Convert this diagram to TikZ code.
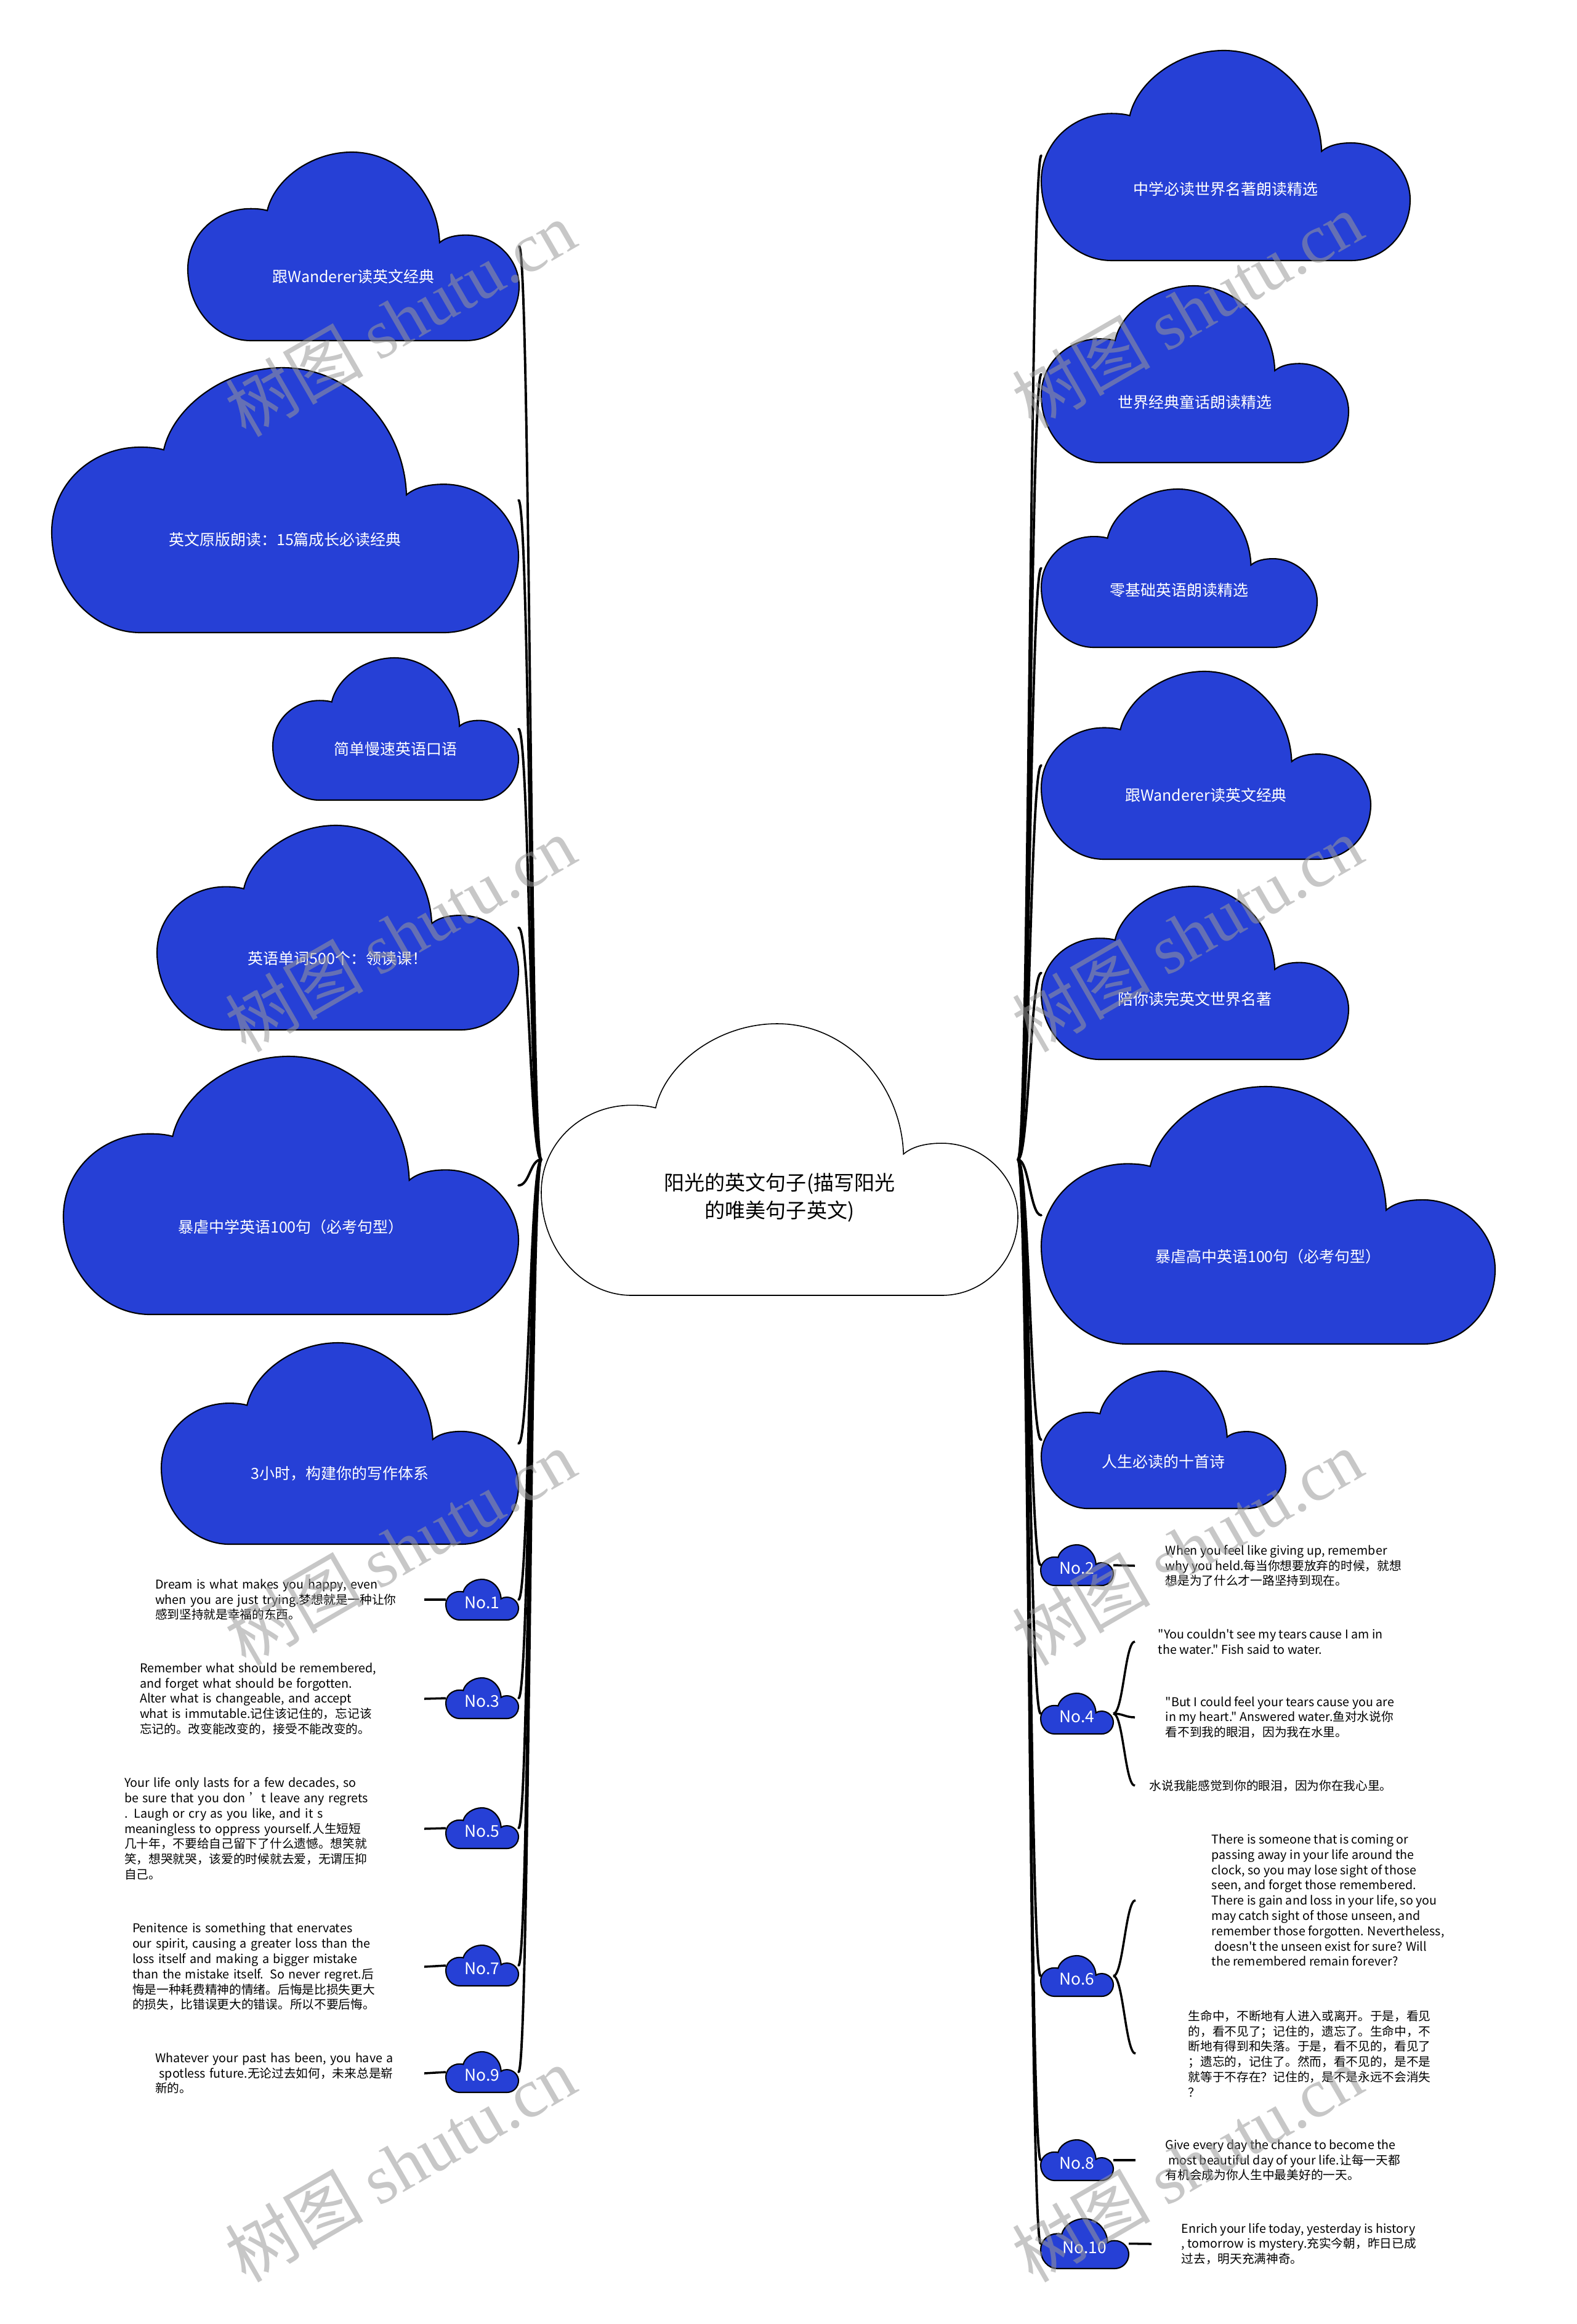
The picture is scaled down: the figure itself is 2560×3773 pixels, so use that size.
\documentclass[tikz,border=0pt]{standalone}
\usepackage{fontspec}
\setmainfont{Noto Sans CJK SC}[Ligatures=TeXOff]
\newfontfamily\wmlatin{Liberation Serif}
\usetikzlibrary{fit,calc}
\definecolor{cblue}{RGB}{38,64,214}
\tikzset{
  bluecloud/.style={fill=cblue,draw=black,line width=0.6pt},
  bluecloud label/.style={text=white,font=\fontsize{7.1}{8.5}\selectfont,inner sep=0pt},
  nocloud/.style={fill=cblue,draw=black,line width=0.6pt},
  nocloud label/.style={text=white,font=\fontsize{7.5}{9}\selectfont,inner sep=0pt},
  maincloud/.style={fill=white,draw=black,line width=0.45pt},
  maincloud label/.style={align=center,font=\fontsize{9.4}{12.8}\selectfont,inner sep=0pt},
  conn/.style={draw=black,line width=1.1pt,line cap=round},
  leafline/.style={draw=black,line width=1pt},
  lefttext/.style={anchor=east,align=left,inner sep=0pt,font=\fontsize{5.6}{7.05}\selectfont},
  righttext/.style={anchor=west,align=left,inner ysep=0pt,font=\fontsize{5.6}{7.05}\selectfont},
  wm/.style={rotate=30,text=black!40,opacity=0.55,inner sep=0pt,font=\fontsize{32}{33}\selectfont},
}
% cloud outline in a box: left, top, width, height, style
\newcommand\cloudshape[5]{%
  \begin{scope}[shift={(#1,#2)},xscale=#3,yscale=#4]
    \path[#5] (0.19,1) .. controls (0.085,1) and (0,0.83) .. (0,0.62)
      .. controls (0,0.44) and (0.085,0.30) .. (0.19,0.30)
      .. controls (0.215,0.30) and (0.23,0.305) .. (0.24,0.31)
      .. controls (0.26,0.15) and (0.37,0) .. (0.495,0)
      .. controls (0.64,0) and (0.755,0.22) .. (0.76,0.48)
      .. controls (0.78,0.45) and (0.81,0.44) .. (0.84,0.44)
      .. controls (0.93,0.44) and (1,0.57) .. (1,0.71)
      .. controls (1,0.87) and (0.93,1) .. (0.84,1) -- cycle;
  \end{scope}}
% name, left, top, width, height, style, label fraction, text
\newcommand\cloud[8]{%
  \cloudshape{#2}{#3}{#4}{#5}{#6}%
  \node[fit={(#2,#3) (#2+#4,#3+#5)},inner sep=0pt,outer sep=0pt] (#1) {};%
  \node[#6 label] (#1t) at (#2+0.5*#4,#3+#7*#5) {#8};%
}
\begin{document}
\begin{tikzpicture}[x=0.01cm,y=-0.01cm]
\fill[white] (0,0) rectangle (2560,3773);
\useasboundingbox (0,0) rectangle (2560,3773);

% centre
\cloud{C}{879}{1662}{774}{441}{maincloud}{0.64}{阳光的英文句子(描写阳光\\的唯美句子英文)}

% left big clouds
\cloud{L1}{305}{247}{538}{306}{bluecloud}{0.66}{跟Wanderer读英文经典}
\cloud{L2}{84}{597}{758}{430}{bluecloud}{0.65}{英文原版朗读：15篇成长必读经典}
\cloud{L3}{443}{1068}{399}{231}{bluecloud}{0.64}{简单慢速英语口语}
\cloud{L4}{255}{1340}{587}{332}{bluecloud}{0.65}{英语单词500个：领读课！}
\cloud{L5}{103}{1715}{739}{419}{bluecloud}{0.66}{暴虐中学英语100句（必考句型）}
\cloud{L6}{262}{2180}{580}{327}{bluecloud}{0.65}{3小时，构建你的写作体系}

% right big clouds
\cloud{R1}{1691}{82}{599}{341}{bluecloud}{0.66}{中学必读世界名著朗读精选}
\cloud{R2}{1691}{464}{499}{287}{bluecloud}{0.66}{世界经典童话朗读精选}
\cloud{R3}{1691}{794}{448}{257}{bluecloud}{0.64}{零基础英语朗读精选}
\cloud{R4}{1691}{1090}{535}{305}{bluecloud}{0.66}{跟Wanderer读英文经典}
\cloud{R5}{1691}{1439}{499}{281}{bluecloud}{0.65}{陪你读完英文世界名著}
\cloud{R6}{1691}{1764}{737}{418}{bluecloud}{0.66}{暴虐高中英语100句（必考句型）}
\cloud{R7}{1691}{2226}{397}{223}{bluecloud}{0.66}{人生必读的十首诗}

% numbered clouds, left
\cloud{N1}{724}{2564}{118}{66}{nocloud}{0.58}{No.1}
\cloud{N3}{724}{2724}{118}{66}{nocloud}{0.58}{No.3}
\cloud{N5}{724}{2935}{118}{66}{nocloud}{0.58}{No.5}
\cloud{N7}{724}{3158}{118}{66}{nocloud}{0.58}{No.7}
\cloud{N9}{724}{3331}{118}{66}{nocloud}{0.58}{No.9}

% numbered clouds, right
\cloud{N2}{1690}{2508}{118}{66}{nocloud}{0.58}{No.2}
\cloud{N4}{1690}{2749}{118}{66}{nocloud}{0.58}{No.4}
\cloud{N6}{1690}{3175}{118}{66}{nocloud}{0.58}{No.6}
\cloud{N8}{1690}{3474}{118}{66}{nocloud}{0.58}{No.8}
\cloud{N10}{1690}{3602}{143}{81}{nocloud}{0.58}{No.10}

% left texts
\node[lefttext,text width=4.36cm] (T1) at (689,2597) {Dream is what makes you happy, even\\when you are just trying.梦想就是一种让你\\感到坚持就是幸福的东西。};
\node[lefttext,text width=4.61cm] (T3) at (689,2758) {Remember what should be remembered,\\and forget what should be forgotten.\\Alter what is changeable, and accept\\what is immutable.记住该记住的，忘记该\\忘记的。改变能改变的，接受不能改变的。};
\node[lefttext,text width=4.86cm] (T5) at (689,2969) {Your life only lasts for a few decades, so\\be sure that you don\ ’t leave any regrets\\. Laugh or cry as you like, and it s\\meaningless to oppress yourself.人生短短\\几十年，不要给自己留下了什么遗憾。想笑就\\笑，想哭就哭，该爱的时候就去爱，无谓压抑\\自己。};
\node[lefttext,text width=4.73cm] (T7) at (689,3193) {Penitence is something that enervates\\our spirit, causing a greater loss than the\\loss itself and making a bigger mistake\\than the mistake itself. So never regret.后\\悔是一种耗费精神的情绪。后悔是比损失更大\\的损失，比错误更大的错误。所以不要后悔。};
\node[lefttext,text width=4.36cm] (T9) at (689,3366) {Whatever your past has been, you have a\\\ spotless future.无论过去如何，未来总是崭\\新的。};

% right texts
\node[righttext,inner xsep=0.49cm] (T2) at (1843,2542) {When you feel like giving up, remember\\why you held.每当你想要放弃的时候，就想\\想是为了什么才一路坚持到现在。};
\node[righttext,inner xsep=0.37cm] (T4a) at (1843,2665) {"You couldn't see my tears cause I am in\\the water." Fish said to water.};
\node[righttext,inner xsep=0.49cm] (T4b) at (1843,2788) {"But I could feel your tears cause you are\\in my heart." Answered water.鱼对水说你\\看不到我的眼泪，因为我在水里。};
\node[righttext,inner xsep=0.23cm] (T4c) at (1843,2899) {水说我能感觉到你的眼泪，因为你在我心里。};
\node[righttext,inner xsep=1.23cm] (T6a) at (1844,3085) {There is someone that is coming or\\passing away in your life around the\\clock, so you may lose sight of those\\seen, and forget those remembered.\\There is gain and loss in your life, so you\\may catch sight of those unseen, and\\remember those forgotten. Nevertheless,\\\ doesn't the unseen exist for sure? Will\\the remembered remain forever?};
\node[righttext,inner xsep=0.85cm] (T6b) at (1844,3334) {生命中，不断地有人进入或离开。于是，看见\\的，看不见了；记住的，遗忘了。生命中，不\\断地有得到和失落。于是，看不见的，看见了\\；遗忘的，记住了。然而，看不见的，是不是\\就等于不存在？记住的，是不是永远不会消失\\？};
\node[righttext,inner xsep=0.48cm] (T8) at (1844,3507) {Give every day the chance to become the\\\ most beautiful day of your life.让每一天都\\有机会成为你人生中最美好的一天。};
\node[righttext,inner xsep=0.48cm] (T10) at (1870,3643) {Enrich your life today, yesterday is history\\, tomorrow is mystery.充实今朝，昨日已成\\过去，明天充满神奇。};

% main connectors
\foreach \n in {L1,L2,L3,L4,L5,L6,N1,N3,N5,N7,N9}
  \draw[conn] (C.west) .. controls ($(C.west)+(-18,0)$) and ($(\n.east)+(18,0)$) .. (\n.east);
\foreach \n in {R1,R2,R3,R4,R5,R6,R7,N2,N4,N6,N8,N10}
  \draw[conn] (C.east) .. controls ($(C.east)+(18,0)$) and ($(\n.west)+(-18,0)$) .. (\n.west);

% leaf connectors
\foreach \a/\b in {N1/T1,N3/T3,N5/T5,N7/T7,N9/T9}
  \draw[leafline] (\a.west) -- (\b.east);
\foreach \a/\b in {N2/T2,N8/T8,N10/T10}
  \draw[leafline] (\a.east) -- (\b.west);
\foreach \a/\b in {N4/T4a,N4/T4b,N4/T4c,N6/T6a,N6/T6b}
  \draw[leafline] (\a.east) .. controls ($(\a.east)+(16,0)$) and ($(\b.west)+(-16,0)$) .. (\b.west);

% watermarks
\node[wm] (wm1) at (650,517) {树图 {\wmlatin shutu.cn}};
\node[wm] (wm2) at (650,1516) {树图 {\wmlatin shutu.cn}};
\node[wm] (wm3) at (650,2512) {树图 {\wmlatin shutu.cn}};
\node[wm] (wm4) at (650,3513) {树图 {\wmlatin shutu.cn}};
\node[wm] (wm5) at (1928,503) {树图 {\wmlatin shutu.cn}};
\node[wm] (wm6) at (1928,1516) {树图 {\wmlatin shutu.cn}};
\node[wm] (wm7) at (1928,2512) {树图 {\wmlatin shutu.cn}};
\node[wm] (wm8) at (1928,3513) {树图 {\wmlatin shutu.cn}};
\end{tikzpicture}
\end{document}
